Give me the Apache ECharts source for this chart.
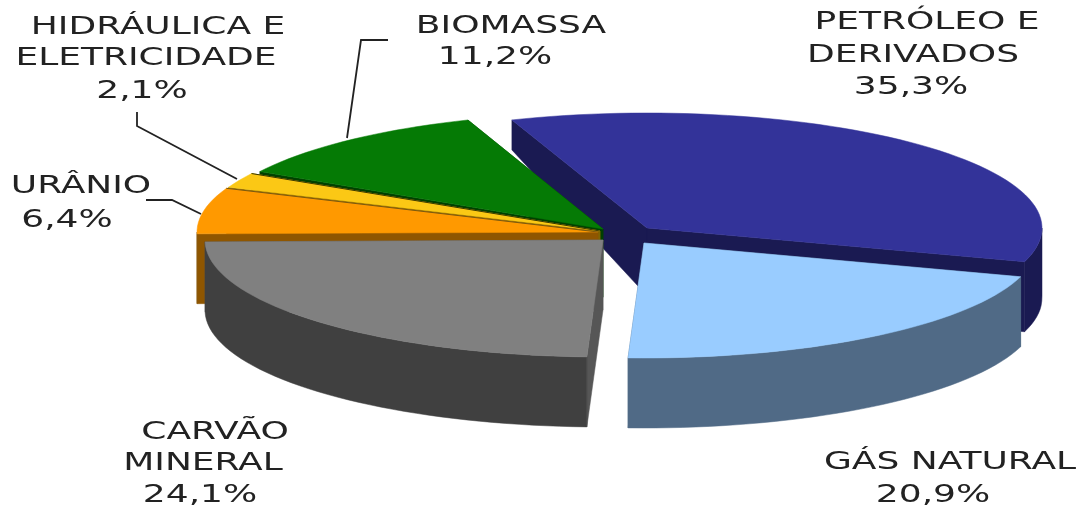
<!DOCTYPE html>
<html>
<head>
<meta charset="utf-8">
<style>
  html, body { margin: 0; background: #fff; }
  #chart { width: 1082px; height: 509px; }
</style>
<script src="https://cdn.jsdelivr.net/npm/echarts@6/dist/echarts.min.js"></script>
</head>
<body>
<div id="chart"></div>
<script>
// clockwise from the blue slice
const categories = ['Petróleo e derivados', 'Gás natural', 'Carvão mineral', 'Urânio', 'Hidráulica e eletricidade', 'Biomassa']
const values = [35.3, 20.9, 24.1, 6.4, 2.1, 11.2]

const topColors = ['#333399', '#99ccff', '#808080', '#ff9900', '#fbc815', '#057a05']
const rimColors = ['#1a1a52', '#506a86', '#404040', '#85540a', '#806600', '#004000']
const faceColors = ['#1a1a52', '#506a86', '#565656', '#8f5600', '#806600', '#004000']
const edgeColors = [null, null, null, '#7a5a10', '#3a3a00', null]

// slice apex and radii in pixels, the picture is a tilted exploded pie
const apexX = [647, 644, 603, 598, 600, 603]
const apexY = [228, 243, 240, 232, 231, 229]
const radiusX = [395, 394, 398, 401, 401, 395]
const radiusY = [115, 115, 117, 116, 116, 116]
const startAngle = -20
// back to front
const drawOrder = [0, 5, 4, 3, 2, 1]

const labelTexts = [
  'PETRÓLEO E', 'DERIVADOS', '35,3%',
  'GÁS NATURAL', '20,9%',
  'CARVÃO', 'MINERAL', '24,1%',
  'URÂNIO', '6,4%',
  'HIDRÁULICA E', 'ELETRICIDADE', '2,1%',
  'BIOMASSA', '11,2%'
]
const labelX = [927, 913, 911, 950, 933, 215, 203, 200, 81, 67, 158, 146, 142, 511, 495]
const labelY = [22.5, 56, 88, 463, 496, 432.5, 464, 496, 187, 220.5, 27.5, 58.5, 92, 26.5, 58]
const leaderLines = [
  [[347, 138], [361, 40], [388, 40]],
  [[137, 112], [137, 126], [237, 179]],
  [[146, 200], [172, 200], [201, 214]]
]

const total = values.reduce((a, b) => a + b, 0)
let acc = startAngle
const slices = values.map((v, i) => {
  const from = acc
  acc += v / total * 360
  return { from, to: acc, i }
})

const depth = y => Math.min(70, 30 + 0.35 * (y - 120))

const rimPoint = (s, deg) => {
  const a = deg * Math.PI / 180
  return [apexX[s.i] + radiusX[s.i] * Math.sin(a), apexY[s.i] - radiusY[s.i] * Math.cos(a)]
}
const drop = p => [p[0], p[1] + depth(p[1])]

const arcPoints = (s, from, to) => {
  const pts = []
  const steps = Math.max(2, Math.ceil((to - from) / 2))
  for (let k = 0; k <= steps; k++) pts.push(rimPoint(s, from + (to - from) * k / steps))
  return pts
}

const poly = (points, fill) => ({
  type: 'polygon',
  shape: { points },
  style: { fill, stroke: fill, lineWidth: 0.5 }
})

const renderSlice = (params, api) => {
  const s = slices[api.value(0)]
  const apex = [apexX[s.i], apexY[s.i]]
  const children = []

  // the two flat cut faces
  ;[s.from, s.to].forEach(deg => {
    const p = rimPoint(s, deg)
    children.push(poly([apex, p, drop(p), drop(apex)], faceColors[s.i]))
  })

  // outer wall, only the front half of the ellipse shows
  const a = Math.max(s.from, 90)
  const b = Math.min(s.to, 270)
  if (b > a) {
    const arc = arcPoints(s, a, b)
    children.push(poly(arc.concat(arc.map(drop).reverse()), rimColors[s.i]))
  }

  children.push(poly([apex].concat(arcPoints(s, s.from, s.to)), topColors[s.i]))

  if (edgeColors[s.i]) {
    children.push({
      type: 'polyline',
      shape: { points: [rimPoint(s, s.to), apex] },
      style: { stroke: edgeColors[s.i], lineWidth: 1, fill: null }
    })
  }
  return { type: 'group', children }
}

const chart = echarts.init(document.getElementById('chart'))
chart.setOption({
  animation: false,
  backgroundColor: '#fff',
  graphic: labelTexts.map((text, i) => ({
    type: 'text',
    x: labelX[i],
    y: labelY[i],
    scaleX: 1.5,
    silent: true,
    z: 10,
    style: {
      text,
      fill: '#222',
      font: '24px "DejaVu Sans"',
      textAlign: 'center',
      textVerticalAlign: 'middle'
    }
  })).concat(leaderLines.map(points => ({
    type: 'polyline',
    silent: true,
    z: 10,
    shape: { points },
    style: { stroke: '#222', lineWidth: 1.8, fill: null }
  }))),
  series: [{
    type: 'custom',
    coordinateSystem: 'none',
    silent: true,
    renderItem: renderSlice,
    data: drawOrder
  }]
})
</script>
</body>
</html>
